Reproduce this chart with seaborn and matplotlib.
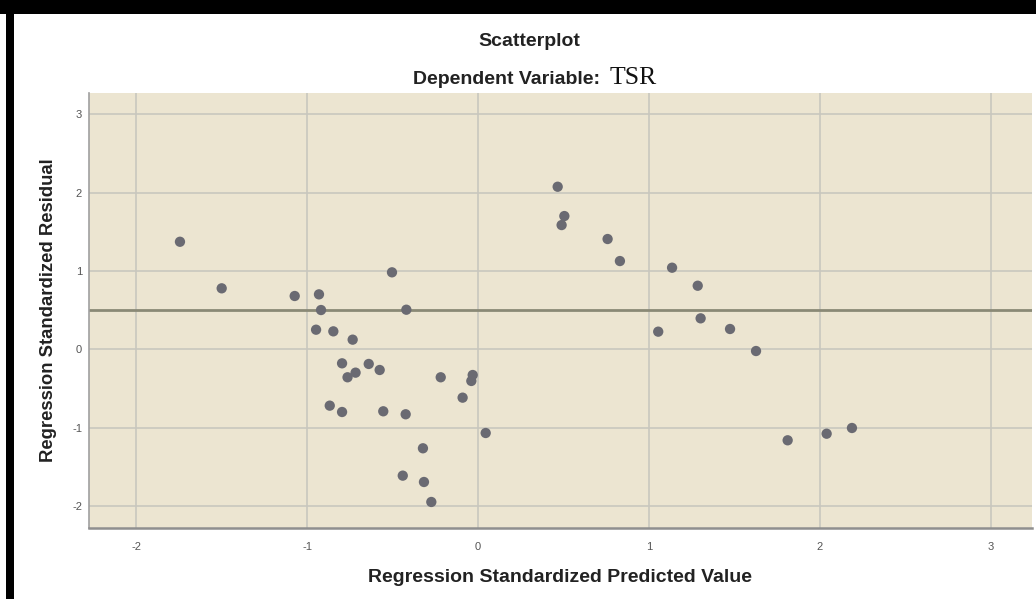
import numpy as np
import pandas as pd
import matplotlib
matplotlib.use("Agg")
import matplotlib.pyplot as plt
import seaborn as sns
from matplotlib.patches import Rectangle

# Data
predicted = [-1.743, -1.499, -1.072, -0.930, -0.918, -0.503, -0.419, -0.947, -0.846, -0.733,
             -0.795, -0.639, -0.575, -0.716, -0.763, -0.218, -0.031, -0.039, -0.090, -0.867,
             -0.795, -0.554, -0.423, 0.045, -0.322, -0.440, -0.316, -0.273,
             0.466, 0.505, 0.489, 0.758, 0.830, 1.135, 1.285, 1.302, 1.054, 1.474, 1.626,
             1.811, 2.039, 2.187]
residual = [1.372, 0.778, 0.680, 0.701, 0.501, 0.982, 0.505, 0.250, 0.229, 0.123,
            -0.179, -0.187, -0.264, -0.298, -0.357, -0.357, -0.328, -0.404, -0.617, -0.719,
            -0.800, -0.791, -0.829, -1.068, -1.263, -1.612, -1.693, -1.948,
            2.074, 1.700, 1.585, 1.407, 1.126, 1.041, 0.811, 0.395, 0.225, 0.259, -0.022,
            -1.161, -1.077, -1.004]
ref_line = 0.5
x_ticks = [-2, -1, 0, 1, 2, 3]
y_ticks = [-2, -1, 0, 1, 2, 3]

df = pd.DataFrame({"pred": predicted, "resid": residual})

sns.set_theme(style="white")
plt.rcParams['font.family'] = ['Liberation Sans', 'DejaVu Sans']

W, H = 1036, 599
fig = plt.figure(figsize=(W / 100, H / 100), dpi=100)
fig.patch.set_facecolor("white")

ax = fig.add_axes([89 / W, (H - 528) / H, (1032 - 89) / W, (528 - 93) / H])
ax.set_facecolor("#ECE5D1")

sns.scatterplot(data=df, x="pred", y="resid", ax=ax, color="#6A6A72",
                s=55, edgecolor="none", zorder=3)

ax.axhline(ref_line, color="#8A8976", lw=2.0, zorder=2)

ax.set_xlim(-2.275, 3.24)
ax.set_ylim(-2.28, 3.27)
ax.set_xticks(x_ticks)
ax.set_yticks(y_ticks)
ax.set_xticklabels([str(t) for t in x_ticks])
ax.set_yticklabels([str(t) for t in y_ticks])
ax.grid(True, color="#C9C7BE", lw=1.2, zorder=1)
ax.set_axisbelow(True)
ax.tick_params(axis="both", labelsize=8, colors="#555555", length=0)
ax.tick_params(axis="x", pad=10)
ax.tick_params(axis="y", pad=5)

for side in ["top", "right"]:
    ax.spines[side].set_visible(False)
ax.spines["left"].set_color("#A0A0A0")
ax.spines["left"].set_linewidth(1.2)
ax.spines["bottom"].set_color("#8F8F8F")
ax.spines["bottom"].set_linewidth(1.8)

ax.set_xlabel("Regression Standardized Predicted Value", fontsize=14,
              fontweight="bold", color="#222222", labelpad=12)
ax.set_ylabel("Regression Standardized Residual", fontsize=13.3,
              fontweight="bold", color="#222222", labelpad=11)

fig.text(529 / W, 1 - 42 / H, "Scatterplot", ha="center", va="center",
         fontsize=14, fontweight="bold", color="#222222")
fig.text(600 / W, 1 - 79 / H, "Dependent Variable:", ha="right", va="center",
         fontsize=14, fontweight="bold", color="#222222")
fig.text(610 / W, 1 - 78 / H, "TSR", ha="left", va="center",
         fontsize=18.5, family="Liberation Serif", color="#111111")

# black frame bands
fig.patches.append(Rectangle((0, 1 - 14 / H), 1, 14 / H, transform=fig.transFigure,
                             facecolor="black", edgecolor="none", zorder=10))
fig.patches.append(Rectangle((6 / W, 0), 8 / W, 1, transform=fig.transFigure,
                             facecolor="black", edgecolor="none", zorder=10))

fig.savefig("out.png", dpi=100)
